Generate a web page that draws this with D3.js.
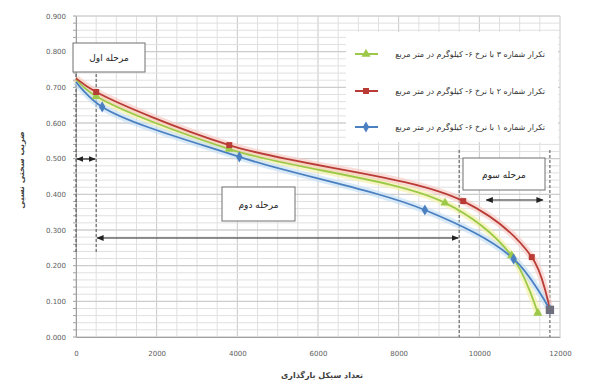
<!DOCTYPE html>
<html>
<head>
<meta charset="utf-8">
<script src="https://cdn.jsdelivr.net/npm/d3@7/dist/d3.min.js"></script>
<style>
  html, body { margin: 0; padding: 0; background: #fff; }
  svg { display: block; }
  text { font-family: "DejaVu Sans", sans-serif; }
</style>
</head>
<body>
<svg id="chart" width="597" height="388"></svg>
<script>
// Loading cycles and relative stiffness for each repetition
const seriesNames = [
  "تکرار شماره ۳ با نرخ ۶- کیلوگرم در متر مربع",
  "تکرار شماره ۲ با نرخ ۶- کیلوگرم در متر مربع",
  "تکرار شماره ۱ با نرخ ۶- کیلوگرم در متر مربع"
];
const greenCycles = [0, 500, 3800, 9150, 10800, 11450];
const greenValues = [0.722, 0.675, 0.527, 0.376, 0.228, 0.067];
const redCycles = [0, 500, 3800, 9600, 11300, 11750];
const redValues = [0.725, 0.687, 0.538, 0.381, 0.224, 0.076];
const blueCycles = [0, 650, 4050, 8650, 10850, 11750];
const blueValues = [0.715, 0.645, 0.505, 0.356, 0.219, 0.076];

const xTicks = [0, 2000, 4000, 6000, 8000, 10000, 12000];
const yTicks = [0, 0.1, 0.2, 0.3, 0.4, 0.5, 0.6, 0.7, 0.8, 0.9];

// Stage annotations (cycle ranges)
const stageLabels = ["مرحله اول", "مرحله دوم", "مرحله سوم"];
const stageBounds = [0, 500, 9500, 11750];

const xTitle = "تعداد سیکل بارگذاری";
const yTitle = "ضریب سختی نسبی";

const svg = d3.select("#chart");
const plotL = 76, plotR = 560, plotT = 16, plotB = 337;

const x = d3.scaleLinear().domain([0, 12000]).range([plotL, plotR]);
const y = d3.scaleLinear().domain([0, 0.9]).range([plotB, plotT]);

// grid: minor then major
const g = svg.append("g");
d3.range(0, 12001, 500).forEach(c => {
  g.append("line").attr("x1", x(c)).attr("x2", x(c)).attr("y1", plotT).attr("y2", plotB)
    .attr("stroke", c % 2000 === 0 ? "#c8c8c8" : "#e0e0e0").attr("stroke-width", 1);
});
d3.range(0, 46).map(i => i * 0.02).forEach(v => {
  g.append("line").attr("x1", plotL).attr("x2", plotR).attr("y1", y(v)).attr("y2", y(v))
    .attr("stroke", "#e0e0e0").attr("stroke-width", 1);
});
yTicks.forEach(v => {
  g.append("line").attr("x1", plotL).attr("x2", plotR).attr("y1", y(v)).attr("y2", y(v))
    .attr("stroke", "#c8c8c8").attr("stroke-width", 1);
});

// axes
const yAxis = d3.axisLeft(y).tickValues(yTicks).tickFormat(d3.format(".3f")).tickSize(0).tickPadding(10);
const yg = svg.append("g").attr("transform", `translate(${plotL},0)`).call(yAxis);
yg.select(".domain").attr("stroke", "#a0a0a0");
yg.selectAll("text").attr("fill", "#606060").style("font-size", "7px");
// minor ticks on the value axis
d3.range(0, 46).map(i => i * 0.02).forEach(v => {
  svg.append("line").attr("x1", plotL - 3).attr("x2", plotL).attr("y1", y(v)).attr("y2", y(v))
    .attr("stroke", "#a0a0a0");
});

const xAxis = d3.axisBottom(x).tickValues(xTicks).tickFormat(d3.format("d")).tickSize(0).tickPadding(14);
const xg = svg.append("g").attr("transform", `translate(0,${plotB})`).call(xAxis);
xg.select(".domain").attr("stroke", "#a0a0a0");
xg.selectAll("text").attr("fill", "#606060").style("font-size", "7px");

// axis titles
svg.append("text").attr("x", (plotL + plotR) / 2 + 4).attr("y", 378)
  .attr("text-anchor", "middle").style("font-size", "8px").style("font-weight", "bold")
  .attr("fill", "#404040").text(xTitle);
svg.append("text").attr("transform", "translate(24,170) rotate(-90)")
  .attr("text-anchor", "middle").style("font-size", "8px").style("font-weight", "bold")
  .attr("fill", "#404040").text(yTitle);

// stage markers: dashed verticals
const dash = svg.append("g").attr("stroke", "#505050").attr("stroke-dasharray", "3,2").attr("stroke-width", 1);
dash.append("line").attr("x1", x(stageBounds[0])).attr("x2", x(stageBounds[0])).attr("y1", 74).attr("y2", 252);
dash.append("line").attr("x1", x(stageBounds[1])).attr("x2", x(stageBounds[1])).attr("y1", 74).attr("y2", 252);
dash.append("line").attr("x1", x(stageBounds[2])).attr("x2", x(stageBounds[2])).attr("y1", 150).attr("y2", plotB);
dash.append("line").attr("x1", x(stageBounds[3])).attr("x2", x(stageBounds[3])).attr("y1", 150).attr("y2", plotB);

// arrowheads
const defs = svg.append("defs");
defs.append("marker").attr("id", "arr").attr("viewBox", "0 0 10 10").attr("refX", 9).attr("refY", 5)
  .attr("markerWidth", 6).attr("markerHeight", 6).attr("orient", "auto-start-reverse")
  .append("path").attr("d", "M0,1 L10,5 L0,9 Z").attr("fill", "#222");

function doubleArrow(c0, c1, py) {
  svg.append("line").attr("x1", x(c0) + 1).attr("x2", x(c1) - 1).attr("y1", py).attr("y2", py)
    .attr("stroke", "#222").attr("stroke-width", 1.2)
    .attr("marker-start", "url(#arr)").attr("marker-end", "url(#arr)");
}
doubleArrow(stageBounds[0], stageBounds[1], 159);
doubleArrow(stageBounds[1], stageBounds[2], 238);
doubleArrow(10150, 11600, 200);

// series lines
const series = [
  { name: seriesNames[0], xs: greenCycles, ys: greenValues, color: "#9dc94a", halo: "#f3f0a0", shape: d3.symbolTriangle },
  { name: seriesNames[1], xs: redCycles, ys: redValues, color: "#b83b36", halo: "#f7c6c0", shape: d3.symbolSquare },
  { name: seriesNames[2], xs: blueCycles, ys: blueValues, color: "#4a7fc0", halo: "#bfdcf3", shape: d3.symbolDiamond }
];

const line = d3.line().x(d => x(d[0])).y(d => y(d[1])).curve(d3.curveCatmullRom.alpha(0.5));

series.forEach(s => {
  const pts = s.xs.map((c, i) => [c, s.ys[i]]);
  svg.append("path").datum(pts).attr("d", line).attr("fill", "none")
    .attr("stroke", s.halo).attr("stroke-width", 7).attr("opacity", 0.6);
});
series.forEach(s => {
  const pts = s.xs.map((c, i) => [c, s.ys[i]]);
  svg.append("path").datum(pts).attr("d", line).attr("fill", "none")
    .attr("stroke", s.color).attr("stroke-width", 1.8);
});
series.forEach(s => {
  const pts = s.xs.map((c, i) => [c, s.ys[i]]);
  svg.selectAll(null).data(pts.slice(1)).enter().append("path")
    .attr("transform", d => `translate(${x(d[0])},${y(d[1])})`)
    .attr("d", d3.symbol().type(s.shape).size(36))
    .attr("fill", s.color);
});
// shared end point of repetitions 1 and 2
svg.append("path")
  .attr("transform", `translate(${x(redCycles[5])},${y(redValues[5])})`)
  .attr("d", d3.symbol().type(d3.symbolSquare).size(70)).attr("fill", "#6e6e7c");

// stage boxes
function stageBox(x0, y0, w, h, label) {
  svg.append("rect").attr("x", x0).attr("y", y0).attr("width", w).attr("height", h)
    .attr("fill", "#fff").attr("stroke", "#707070").attr("stroke-width", 1);
  svg.append("text").attr("x", x0 + w / 2).attr("y", y0 + h / 2 + 3.5)
    .attr("text-anchor", "middle").style("font-size", "9px").attr("fill", "#222").text(label);
}
stageBox(73, 43, 72, 29, stageLabels[0]);
stageBox(222, 187, 73, 34, stageLabels[1]);
stageBox(463, 158, 82, 32, stageLabels[2]);

// legend
const lg = svg.append("g");
lg.append("rect").attr("x", 346).attr("y", 32).attr("width", 212).attr("height", 110).attr("fill", "#fff");
const rows = [54, 91, 127];
series.forEach((s, i) => {
  const ry = rows[i];
  lg.append("line").attr("x1", 355).attr("x2", 378).attr("y1", ry).attr("y2", ry)
    .attr("stroke", s.color).attr("stroke-width", 2);
  lg.append("path").attr("transform", `translate(366,${ry})`)
    .attr("d", d3.symbol().type(s.shape).size(36)).attr("fill", s.color);
  lg.append("text").attr("x", 545).attr("y", ry + 3).attr("text-anchor", "end")
    .style("font-size", "8px").attr("fill", "#333").text(s.name);
});
</script>
</body>
</html>
